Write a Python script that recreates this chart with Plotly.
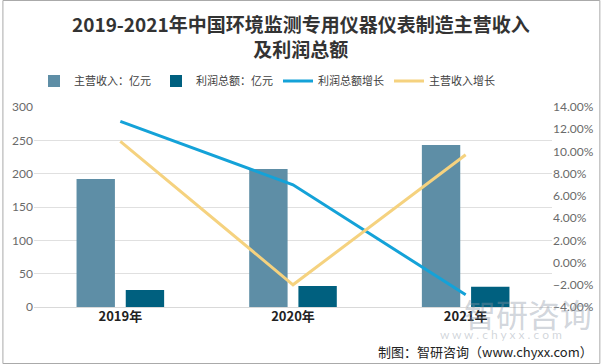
import plotly.graph_objects as go

years = ["2019年", "2020年", "2021年"]
revenue = [192, 207, 243]          # 主营收入：亿元
profit = [25.5, 31.5, 30.5]        # 利润总额：亿元
profit_growth = [0.127, 0.070, -0.029]   # 利润总额增长
revenue_growth = [0.109, -0.020, 0.097]  # 主营收入增长

right_ticks = [-0.04, -0.02, 0, 0.02, 0.04, 0.06, 0.08, 0.10, 0.12, 0.14]

CJK = "Noto Sans CJK SC"
NUM = "Lato, 'Noto Sans CJK SC'"

fig = go.Figure()
fig.add_trace(go.Bar(x=years, y=revenue, name="主营收入：亿元",
                     marker=dict(color="#5e8ea6", line=dict(width=0))))
fig.add_trace(go.Bar(x=years, y=profit, name="利润总额：亿元",
                     marker=dict(color="#00607f", line=dict(width=0))))
fig.add_trace(go.Scatter(x=years, y=profit_growth, name="利润总额增长", yaxis="y2",
                         mode="lines", line=dict(color="#14a2d8", width=3)))
fig.add_trace(go.Scatter(x=years, y=revenue_growth, name="主营收入增长", yaxis="y2",
                         mode="lines", line=dict(color="#f5d27f", width=3)))

L, R, T, B = 32, 49, 107, 57
W, H = 606, 364
pw, ph = W - L - R, H - T - B

def px(x):
    return (x - L) / pw

def py(y):
    return (H - B - y) / ph

fig.update_layout(
    width=W, height=H,
    margin=dict(l=L, r=R, t=T, b=B),
    paper_bgcolor="white", plot_bgcolor="white",
    barmode="group", bargap=0.43, bargroupgap=0.22,
    showlegend=True,
    legend=dict(orientation="h", x=px(32), xanchor="left", y=py(81), yanchor="middle",
                font=dict(family=CJK, size=11, color="#404040"),
                itemwidth=30, tracegroupgap=0, bgcolor="rgba(0,0,0,0)"),
    xaxis=dict(showgrid=False, showline=False, zeroline=False, ticks="",
               tickfont=dict(family=CJK, size=13, color="#222222"),
               tickvals=years, ticktext=["<b>%s</b>" % y for y in years]),
    yaxis=dict(range=[0, 300], dtick=50, showgrid=True, gridcolor="#e0e0e0", gridwidth=1,
               zeroline=True, zerolinecolor="#d9d9d9", zerolinewidth=1,
               showline=False, ticks="",
               tickfont=dict(family=NUM, size=12, color="#6a6a6a")),
    yaxis2=dict(range=[-0.04, 0.14], overlaying="y", side="right", showgrid=False,
                zeroline=False, showline=False, tickvals=right_ticks, tickformat=".2%",
                ticks="", tickfont=dict(family=NUM, size=12, color="#6a6a6a")),
    shapes=[dict(type="rect", xref="paper", yref="paper",
                 x0=px(0.5), x1=px(W - 0.5), y0=py(H - 0.5), y1=py(0.5),
                 line=dict(color="#aaaaaa", width=1), fillcolor="rgba(0,0,0,0)", layer="below")],
    annotations=[
        dict(text="<b>2019-2021年中国环境监测专用仪器仪表制造主营收入<br>及利润总额</b>",
             xref="paper", yref="paper", x=px(303), y=py(36),
             xanchor="center", yanchor="middle", showarrow=False,
             font=dict(family=CJK, size=19, color="#333333")),
        dict(text="智研咨询", xref="paper", yref="paper", x=px(533), y=py(313),
             xanchor="center", yanchor="middle", showarrow=False,
             font=dict(family=CJK, size=32, color="rgba(140,150,165,0.4)")),
        dict(text="w w w . c h y x x . c o m", xref="paper", yref="paper", x=px(505), y=py(334),
             xanchor="center", yanchor="middle", showarrow=False,
             font=dict(family=NUM, size=12, color="rgba(140,150,165,0.4)")),
        dict(text="制图：智研咨询（www.chyxx.com）", xref="paper", yref="paper",
             x=px(601), y=py(351), xanchor="right", yanchor="middle", showarrow=False,
             font=dict(family=CJK, size=13, color="#222222")),
    ],
)

fig.write_html("out.html", config={"displayModeBar": False},
               post_script="document.body.style.margin='0';document.body.style.overflow='hidden';")
